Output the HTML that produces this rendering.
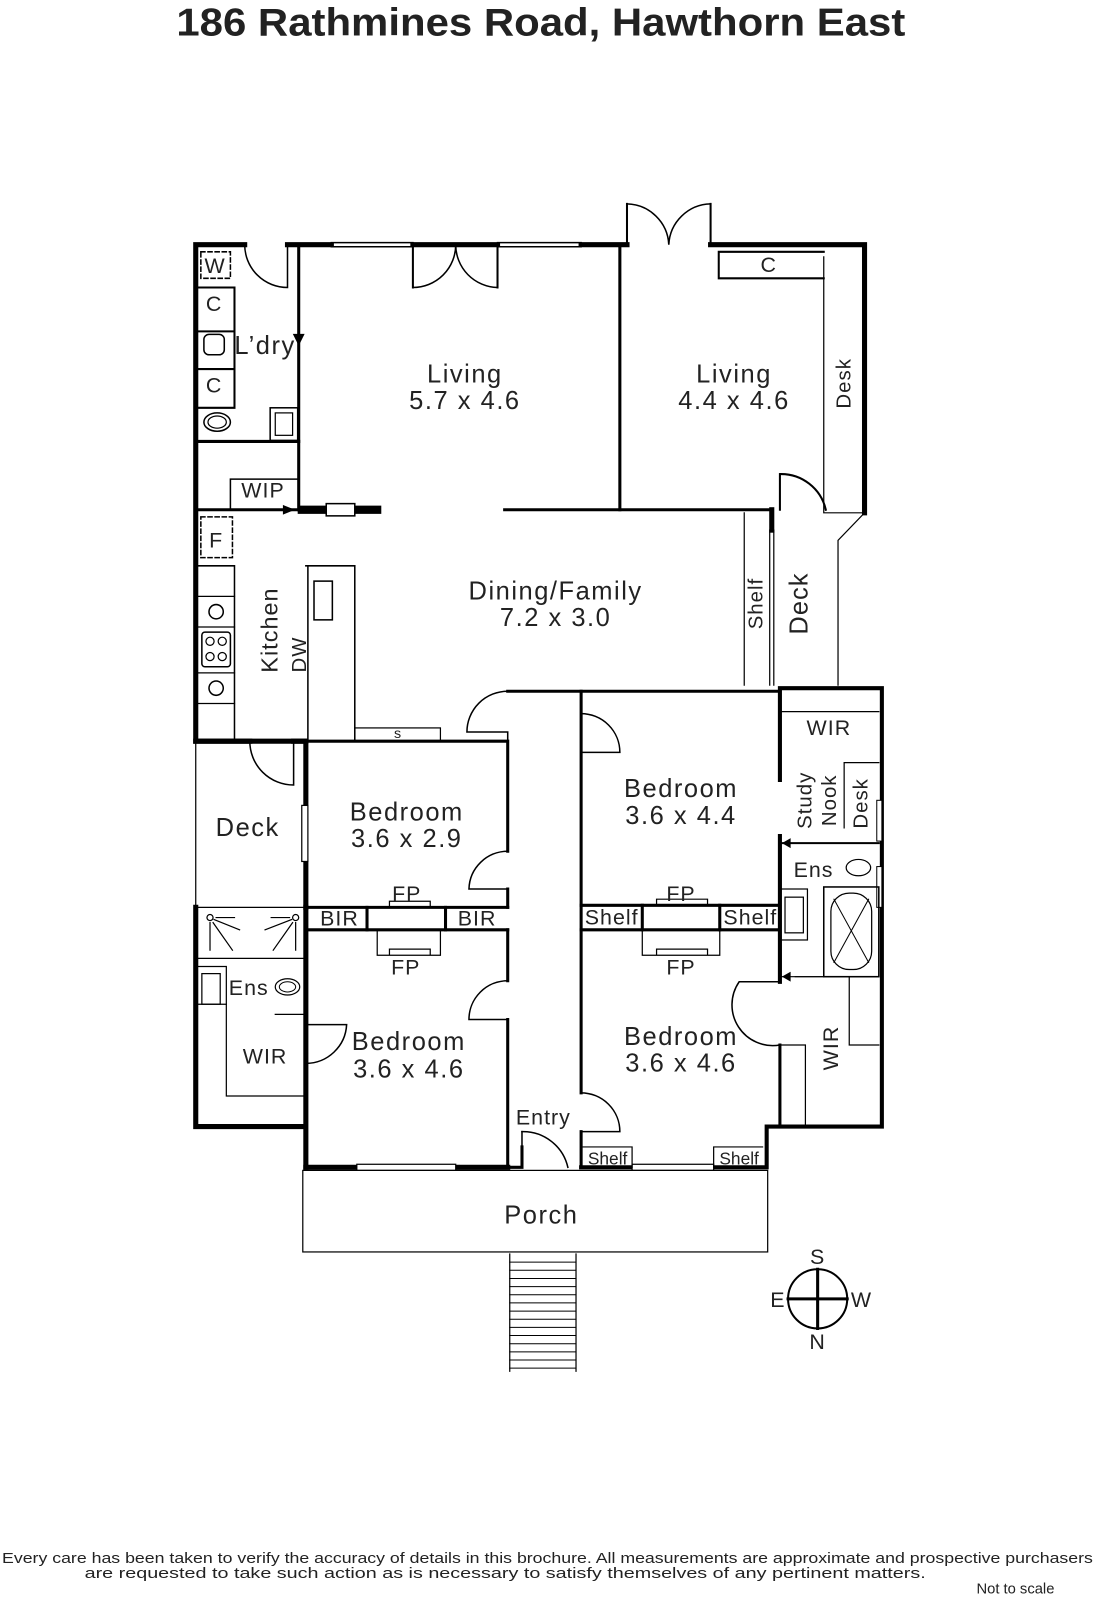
<!DOCTYPE html>
<html><head><style>
html,body{margin:0;padding:0;background:#fff;}
svg{display:block;}
text{font-family:"Liberation Sans",sans-serif;fill:#222;}
</style></head><body>
<svg width="1096" height="1600" viewBox="0 0 1096 1600" xmlns="http://www.w3.org/2000/svg">
<g transform="scale(1.0195)">
<text x="173" y="35" font-size="38" font-weight="bold" textLength="715" lengthAdjust="spacingAndGlyphs">186 Rathmines Road, Hawthorn East</text>

<g stroke="#000" fill="none" stroke-linecap="square">
<path d="M240 240 H192 V727 H300" stroke-width="5"/>
<path d="M282 240 H325 M405 240 H488 M570 240 H615 M697 240 H848 V503" stroke-width="5"/>
<path d="M405 240 V282 M488 282 V240" stroke-width="2"/>
<path d="M615 240 V200 M697 240 V200" stroke-width="2"/>
<path d="M325 238 H405 M325 242 H405 M488 238 H570 M488 242 H570" stroke-width="1.5"/>
<path d="M240 240 A42 42 0 0 0 282 282 V240" stroke-width="1.5"/>
<path d="M405 282 A42 42 0 0 0 447 240 A42 42 0 0 0 488 282" stroke-width="1.5"/>
<path d="M615 200 A42 42 0 0 1 656 240 A42 42 0 0 1 697 200" stroke-width="1.5"/>
<path d="M293 240 V500 M608 240 V500" stroke-width="3"/>
<path d="M192 433 H293" stroke-width="3"/>
<rect x="197" y="247" width="29" height="26" stroke-width="1.5" stroke-dasharray="4,3"/>
<path d="M192 282 H230 V325 H192 M192 325 H230 V362 H192 M192 362 H230 V400 H192" stroke-width="2"/>
<rect x="200" y="328" width="20" height="20" rx="5" stroke-width="1.5"/>
<ellipse cx="213" cy="414" rx="13" ry="9" stroke-width="1.5"/>
<ellipse cx="213" cy="414" rx="9" ry="6" stroke-width="1.2"/>
<rect x="265" y="400" width="27" height="32" stroke-width="1.5"/>
<rect x="270" y="405" width="17" height="22" stroke-width="1.2"/>
<path d="M293 300 V330" stroke-width="1"/>
<path d="M288 328 L293 338 L298 328 Z" fill="#000"/>
<path d="M192 500 H300" stroke-width="3"/>
<path d="M226 500 V470 H293" stroke-width="1.5"/>
<path d="M240 500 H285" stroke-width="1"/>
<path d="M278 496 L288 500 L278 504Z" fill="#000"/>
<path d="M296 500 H370" stroke-width="8"/>
<rect x="320" y="494" width="28" height="12" fill="#fff" stroke-width="1.5"/>
<path d="M495 500 H757" stroke-width="3"/>
<path d="M765 500 V465 A45 45 0 0 1 810 500" stroke-width="2"/>
<path d="M808 252 V503 M808 503 H848" stroke-width="1.2"/>
<path d="M705 247 V273 H808 M705 247 H808" stroke-width="2"/>
<path d="M848 503 L822 530 V672" stroke-width="1.2"/>
<path d="M757 500 V520" stroke-width="5"/>
<path d="M755 520 V672 M759 520 V672" stroke-width="1.2"/>
<path d="M730 503 V672" stroke-width="1.2"/>
<rect x="197" y="507" width="31" height="40" stroke-width="1.5" stroke-dasharray="4,3"/>
<path d="M192 555 H230 V727" stroke-width="1.5"/>
<path d="M192 585 H230 M192 615 H230 M192 660 H230 M192 690 H230" stroke-width="1.2"/>
<circle cx="212" cy="600" r="7" stroke-width="1.5"/>
<circle cx="212" cy="675" r="7" stroke-width="1.5"/>
<rect x="198" y="620" width="28" height="34" rx="3" stroke-width="1.5"/>
<circle cx="206" cy="629" r="4" stroke-width="1.2"/><circle cx="218" cy="629" r="4" stroke-width="1.2"/>
<circle cx="206" cy="644" r="4" stroke-width="1.2"/><circle cx="218" cy="644" r="4" stroke-width="1.2"/>
<path d="M300 555 H348 V727 M302 555 V727" stroke-width="1.5"/>
<rect x="308" y="570" width="18" height="38" stroke-width="1.5"/>
<rect x="348" y="714" width="84" height="13" stroke-width="1.2"/>
<path d="M192 727 V890 M192 890 H300" stroke-width="1.2"/>
<path d="M192 727 H245 M288 727 H300 V890" stroke-width="5"/>
<path d="M245 727 A43 43 0 0 0 288 770 V727" stroke-width="1.5"/>
<rect x="296" y="790" width="6" height="55" fill="#fff" stroke-width="1.2"/>
<path d="M300 727 H498 V835 M498 890 V872" stroke-width="3"/>
<path d="M498 835 A38 38 0 0 0 460 872 H498" stroke-width="1.5"/>
<path d="M300 890 H498 M300 912 H498" stroke-width="3"/>
<path d="M360 890 V912 M437 890 V912" stroke-width="3"/>
<path d="M382 890 V884 H422 V890" stroke-width="1.2"/>
<path d="M370 912 V937 H432 V912 M382 937 V931 H422 V937" stroke-width="1.2"/>
<path d="M498 912 V962 M498 1000 V1145" stroke-width="3"/>
<path d="M498 962 A38 38 0 0 0 460 1000 H498" stroke-width="1.5"/>
<path d="M498 678 H765" stroke-width="3"/>
<path d="M498 678 A40 40 0 0 0 458 718 H498 V727" stroke-width="1.5"/>
<path d="M192 890 V1105 H300 M300 890 V1145" stroke-width="5"/>
<path d="M192 940 H300 M192 985 H222 V1075 H300 M270 995 H300" stroke-width="1.2"/>
<path d="M222 985 V948 H192" stroke-width="1.2"/>
<rect x="198" y="955" width="18" height="30" stroke-width="1.2"/>
<ellipse cx="282" cy="968" rx="12" ry="8" stroke-width="1.2"/>
<ellipse cx="282" cy="968" rx="8" ry="5" stroke-width="1"/>
<path d="M300 1005 H340 A40 40 0 0 1 300 1043" stroke-width="1.5"/>
<g stroke-width="1.2">
<circle cx="206" cy="900" r="3"/><path d="M210 902 L235 912 M209 905 L228 932 M206 905 V932 M212 900 H230"/>
<circle cx="290" cy="900" r="3"/><path d="M286 902 L260 912 M287 905 L268 932 M290 905 V932 M284 900 H266"/>
</g>
<path d="M300 1145 H498" stroke-width="5"/>
<rect x="350" y="1142" width="97" height="6" fill="#fff" stroke-width="1.2"/>
<path d="M498 1145 H512 M512 1145 V1125 M570 1145 V1110" stroke-width="3"/>
<path d="M512 1110 A45 45 0 0 1 557 1145" stroke-width="1.5"/>
<path d="M512 1110 V1145" stroke-width="1.5"/>
<path d="M570 678 V1072" stroke-width="3"/>
<path d="M570 1072 A38 38 0 0 1 608 1110 H570" stroke-width="1.5"/>
<path d="M570 700 A38 38 0 0 1 608 738 H570" stroke-width="1.5"/>
<path d="M570 888 H765 M570 912 H765" stroke-width="3"/>
<path d="M630 888 V912 M706 888 V912" stroke-width="3"/>
<path d="M644 888 V882 H694 V888" stroke-width="1.2"/>
<path d="M630 912 V937 H706 V912 M644 937 V931 H694 V937" stroke-width="1.2"/>
<path d="M570 1145 H752 V1105 H865 V675 H765 V765 M765 820 V963" stroke-width="4"/>
<path d="M765 1025 V1105" stroke-width="3"/>
<path d="M765 963 H725 A40 40 0 0 0 765 1025" stroke-width="1.5"/>
<rect x="620" y="1142" width="80" height="6" fill="#fff" stroke-width="1.2"/>
<path d="M572 1125 H620 V1145 M700 1145 V1125 H748" stroke-width="1.2"/>
<path d="M765 698 H862" stroke-width="1.2"/>
<path d="M828 748 H862 M828 748 V812" stroke-width="1.2"/>
<path d="M765 827 H862" stroke-width="2"/>
<path d="M780 827 H810" stroke-width="1"/>
<path d="M775 823 L768 827 L775 831Z" fill="#000"/>
<rect x="860" y="785" width="5" height="40" fill="#fff" stroke-width="1"/>
<rect x="860" y="850" width="5" height="40" fill="#fff" stroke-width="1"/>
<ellipse cx="842" cy="851" rx="12" ry="8" stroke-width="1.2"/>
<rect x="765" y="872" width="27" height="50" stroke-width="1.2"/>
<rect x="770" y="880" width="18" height="35" stroke-width="1.2"/>
<rect x="808" y="870" width="54" height="88" stroke-width="1.5"/>
<rect x="815" y="876" width="40" height="75" rx="18" stroke-width="1.2"/>
<path d="M818 882 L852 944 M852 882 L818 944" stroke-width="1"/>
<path d="M765 958 H862" stroke-width="1.2"/>
<path d="M780 958 H808" stroke-width="1"/>
<path d="M775 954 L768 958 L775 962Z" fill="#000"/>
<path d="M833 958 V1025 H862" stroke-width="1.2"/>
<path d="M765 1025 H790 V1105" stroke-width="1.2"/>
<rect x="297" y="1148" width="456" height="80" stroke-width="1.2"/>
<path d="M500 1230 V1345 M565 1230 V1345" stroke-width="1.2"/>
<path d="M500 1238H565M500 1246H565M500 1254H565M500 1262H565M500 1270H565M500 1278H565M500 1286H565M500 1294H565M500 1302H565M500 1310H565M500 1318H565M500 1326H565M500 1334H565M500 1342H565" stroke-width="1"/>
<circle cx="802" cy="1274" r="29" stroke-width="2"/>
<path d="M802 1245 V1303 M773 1274 H831" stroke-width="3"/>
</g>

<g font-size="25" text-anchor="middle" letter-spacing="1.5">
<text x="456" y="375">Living</text><text x="456" y="401">5.7 x 4.6</text>
<text x="720" y="375">Living</text><text x="720" y="401">4.4 x 4.6</text>
<text x="545" y="588">Dining/Family</text><text x="545" y="614">7.2 x 3.0</text>
<text x="399" y="805">Bedroom</text><text x="399" y="831">3.6 x 2.9</text>
<text x="668" y="782">Bedroom</text><text x="668" y="808">3.6 x 4.4</text>
<text x="401" y="1030">Bedroom</text><text x="401" y="1057">3.6 x 4.6</text>
<text x="668" y="1025">Bedroom</text><text x="668" y="1051">3.6 x 4.6</text>
<text x="243" y="820">Deck</text>
<text x="531" y="1200">Porch</text>
<text x="260" y="347">L’dry</text>
</g>
<g font-size="21" text-anchor="middle" letter-spacing="1">
<text x="211" y="268">W</text>
<text x="210" y="305">C</text>
<text x="210" y="385">C</text>
<text x="754" y="267">C</text>
<text x="258" y="488">WIP</text>
<text x="212" y="537">F</text>
<text x="260" y="1043">WIR</text>
<text x="813" y="721">WIR</text>
<text x="244" y="976">Ens</text>
<text x="798" y="860">Ens</text>
<text x="399" y="884">FP</text><text x="398" y="956">FP</text>
<text x="668" y="884">FP</text><text x="668" y="956">FP</text>
<text x="333" y="908">BIR</text><text x="468" y="908">BIR</text>
<text x="600" y="907">Shelf</text><text x="736" y="907">Shelf</text>
<text x="533" y="1103">Entry</text>
<text x="802" y="1240">S</text><text x="802" y="1323">N</text>
<text x="763" y="1282">E</text><text x="845" y="1282">W</text>
</g>
<g font-size="17" text-anchor="middle">
<text x="596" y="1142">Shelf</text><text x="725" y="1142">Shelf</text>
<text x="390" y="724" font-size="14">s</text>
</g>
<g font-size="23" text-anchor="middle" letter-spacing="1">
<text transform="translate(272,618) rotate(-90)">Kitchen</text>
<text transform="translate(300,642) rotate(-90)" font-size="20">DW</text>
<text transform="translate(834,376) rotate(-90)" font-size="20">Desk</text>
<text transform="translate(748,592) rotate(-90)" font-size="20">Shelf</text>
<text transform="translate(792,592) rotate(-90)" font-size="25">Deck</text>
<text transform="translate(796,785) rotate(-90)" font-size="20">Study</text>
<text transform="translate(820,785) rotate(-90)" font-size="20">Nook</text>
<text transform="translate(851,788) rotate(-90)" font-size="20">Desk</text>
<text transform="translate(822,1028) rotate(-90)" font-size="21">WIR</text>
</g>
<g font-size="14.5">
<text x="2" y="1533" textLength="1070" lengthAdjust="spacingAndGlyphs">Every care has been taken to verify the accuracy of details in this brochure.  All measurements are approximate and prospective purchasers</text>
<text x="83" y="1548" textLength="825" lengthAdjust="spacingAndGlyphs">are requested to take such action as is necessary to satisfy themselves of any pertinent matters.</text>
</g>
<text x="996" y="1563" font-size="14.5" text-anchor="middle">Not to scale</text>
</g>
</svg>
</body></html>
